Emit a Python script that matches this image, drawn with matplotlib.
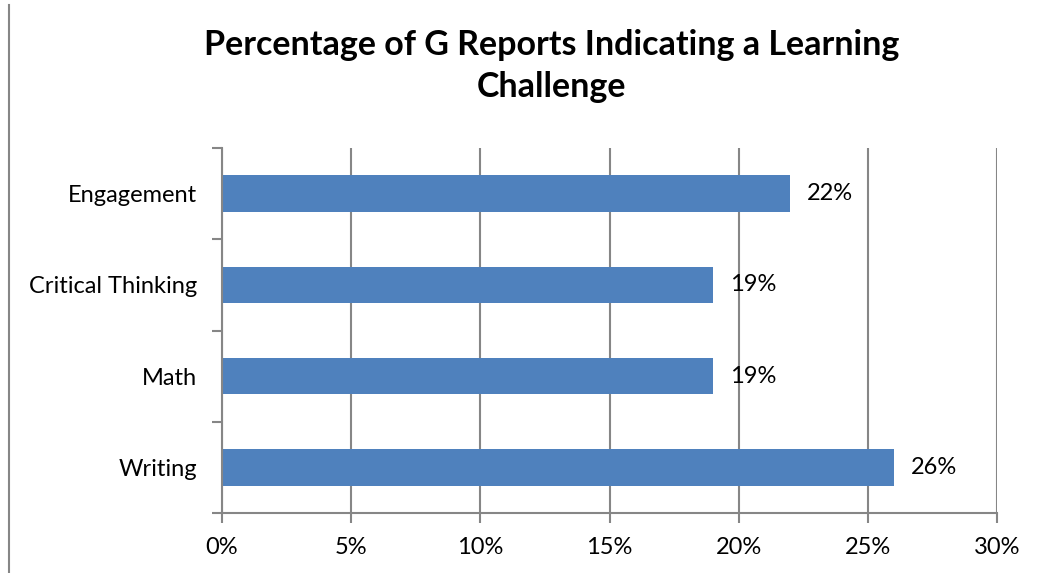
import matplotlib.pyplot as plt
from matplotlib.ticker import FuncFormatter
from matplotlib.lines import Line2D

# data
categories = ['Writing', 'Math', 'Critical Thinking', 'Engagement']
values = [26, 19, 19, 22]
xticks = [0, 5, 10, 15, 20, 25, 30]

plt.rcParams['font.family'] = ['Lato', 'DejaVu Sans']
grey = '#868686'

fig = plt.figure(figsize=(10.38, 5.73), dpi=100)
ax = fig.add_axes([222 / 1038, 1 - 513 / 573, 775 / 1038, 365 / 573])

ypos = list(range(len(categories)))
ax.barh(ypos, values, height=0.4, color='#4F81BD', zorder=3)
for y, v in zip(ypos, values):
    ax.text(v + 0.65, y, '%d%%' % v, va='center', ha='left', fontsize=17)

ax.set_xlim(0, 30)
ax.set_ylim(-0.5, len(categories) - 0.5)
ax.set_xticks(xticks)
ax.xaxis.set_major_formatter(FuncFormatter(lambda x, p: '%d%%' % x))
ax.set_yticks(ypos)
ax.set_yticklabels(categories)
ax.set_yticks([i - 0.5 for i in range(len(categories) + 1)], minor=True)
ax.tick_params(axis='y', which='major', length=0, pad=18, labelsize=17)
ax.tick_params(axis='y', which='minor', length=7, width=1.5, color=grey)
ax.tick_params(axis='x', length=7, width=1.5, color=grey, pad=10, labelsize=17)

ax.grid(axis='x', color=grey, linewidth=1.5, zorder=0)
for s in ['top', 'right']:
    ax.spines[s].set_visible(False)
for s in ['left', 'bottom']:
    ax.spines[s].set_color(grey)
    ax.spines[s].set_linewidth(1.5)
    ax.spines[s].set_zorder(4)

fig.text(552 / 1038, 1 - 66 / 573, 'Percentage of G Reports Indicating a Learning\nChallenge',
         ha='center', va='center', fontsize=24.5, fontweight='bold', linespacing=1.4)

# chart border on the left
fig.add_artist(Line2D([8.5 / 1038, 8.5 / 1038], [0, 1 - 5 / 573], color=grey, linewidth=1.5))

fig.savefig('out.png', dpi=100)
